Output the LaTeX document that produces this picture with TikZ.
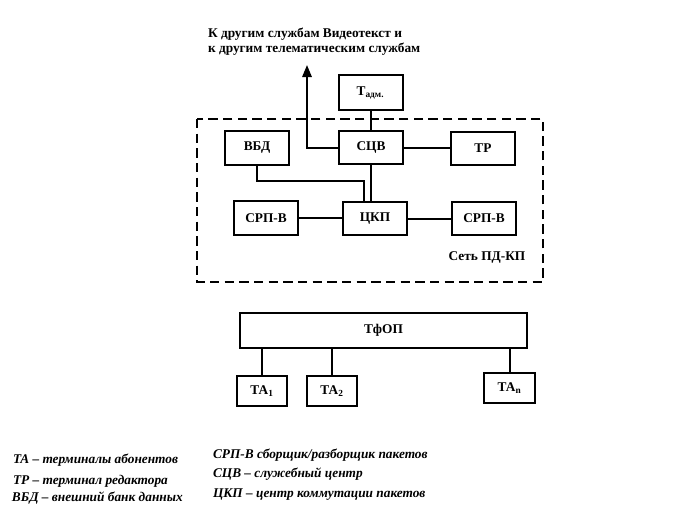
\documentclass[tikz,border=0pt]{standalone}
\usepackage{fontspec}
\setmainfont{Liberation Serif}
\usetikzlibrary{arrows.meta}

\begin{document}
\begin{tikzpicture}[x=0.75pt, y=-0.75pt, line width=1.5pt,
    font=\bfseries\fontsize{10}{11}\selectfont,
    blok/.style={draw, minimum width=48pt, minimum height=25pt, inner sep=0pt},
    tabox/.style={draw, minimum width=38pt, minimum height=22.5pt, inner sep=0pt},
    legenda/.style={anchor=west, inner sep=0pt, font=\bfseries\itshape\fontsize{10}{11}\selectfont}]
  \useasboundingbox (0,0) rectangle (680,522);

  % Сеть ПД-КП
  \draw[dash pattern=on 7pt off 4pt] (197,119) rectangle (543,282);
  \node (set) at (487,257) {Сеть ПД-КП};

  \node[blok] (vbd) at (257,148) {ВБД};
  \node[blok] (scv) at (371,147.5) {СЦВ};
  \node[blok] (tr) at (483,148.5) {ТР};
  \node[blok] (srp1) at (266,218) {СРП-В};
  \node[blok] (ckp) at (375,218.5) {ЦКП};
  \node[blok] (srp2) at (484,218.5) {СРП-В};
  \node[blok, minimum height=26pt] (tadm) at (370.5,92.5) {Т\textsubscript{адм.}};

  % выход к другим службам
  \coordinate (vyhod) at (307,65);
  \node[anchor=north west, align=left, inner sep=0pt] (sluzhby) at (207,27)
    {К другим службам Видеотекст и\\к другим телематическим службам};

  \draw[-{Triangle[width=7pt,length=9pt]}] (scv.west) -| (vyhod);
  \draw (tadm) -- (tadm |- scv.north);
  \draw (scv.east) -- (scv.east -| tr.west);
  \coordinate (izgib) at (364,181);
  \draw (vbd.south) |- (izgib) -- (izgib |- ckp.north);
  \draw (scv.south) -- (scv.south |- ckp.north);
  \draw (srp1.east) -- (srp1.east -| ckp.west);
  \draw (ckp.east) -- (ckp.east -| srp2.west);

  % ТфОП и терминалы
  \node[draw, minimum width=215pt, minimum height=26pt, inner sep=0pt] (tfop) at (383.5,330.5) {ТфОП};
  \node[tabox] (ta1) at (262,391) {ТА\textsubscript{1}};
  \node[tabox] (ta2) at (332,391) {ТА\textsubscript{2}};
  \node[tabox] (tan) at (509.5,388) {ТА\textsubscript{n}};
  \foreach \t in {ta1, ta2, tan}
    \draw (\t.north) -- (\t.north |- tfop.south);

  % пояснения
  \node[legenda] (l1) at (12,460) {ТА -- терминалы абонентов};
  \node[legenda] (l2) at (12,481) {ТР -- терминал редактора};
  \node[legenda] (l3) at (11,498) {ВБД -- внешний банк данных};
  \node[legenda] (l4) at (212,455) {СРП-В сборщик/разборщик пакетов};
  \node[legenda] (l5) at (212,474) {СЦВ -- служебный центр};
  \node[legenda] (l6) at (212,495) {ЦКП -- центр коммутации пакетов};
\end{tikzpicture}
\end{document}
